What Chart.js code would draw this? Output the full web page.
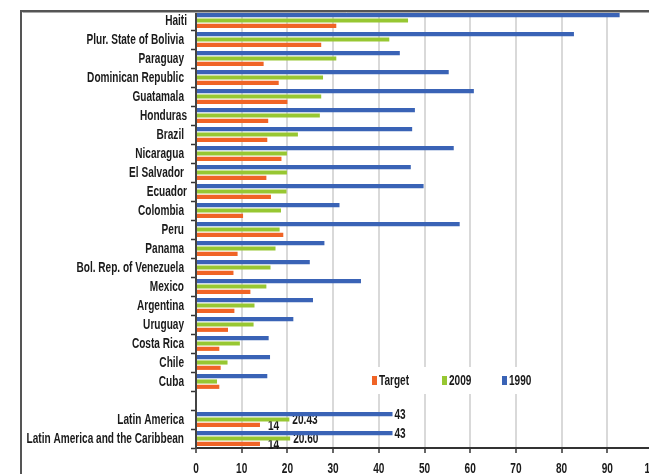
<!DOCTYPE html>
<html>
<head>
<meta charset="utf-8">
<script src="https://cdn.jsdelivr.net/npm/chart.js@4/dist/chart.umd.min.js"></script>
<style>
  html, body { margin: 0; padding: 0; background: #ffffff; overflow: hidden; width: 649px; height: 474px; }
  #wrap { position: absolute; left: 0; top: 0; width: 670px; height: 490px; }
</style>
</head>
<body>
<div id="wrap"><canvas id="c" width="670" height="490"></canvas></div>
<script>
// ---- data ----
const categories = [
  "Haiti", "Plur. State of Bolivia ", "Paraguay ", "Dominican Republic ", "Guatamala ",
  "Honduras", "Brazil ", "Nicaragua ", "El Salvador ", "Ecuador",
  "Colombia ", "Peru ", "Panama ", "Bol. Rep. of Venezuela ", "Mexico ",
  "Argentina ", "Uruguay ", "Costa Rica ", "Chile ", "Cuba ",
  "", "Latin America ", "Latin America and the Caribbean "
];
const values1990 = [
  92.7, 82.7, 44.6, 55.3, 60.8,
  47.9, 47.3, 56.4, 47.0, 49.8,
  31.4, 57.7, 28.1, 24.9, 36.1,
  25.6, 21.3, 15.9, 16.2, 15.6,
  null, 43, 43
];
const values2009 = [
  46.4, 42.3, 30.7, 27.8, 27.4,
  27.1, 22.3, 19.9, 19.9, 19.8,
  18.6, 18.3, 17.4, 16.3, 15.4,
  12.8, 12.6, 9.6, 6.9, 4.6,
  null, 20.43, 20.60
];
const valuesTarget = [
  30.7, 27.4, 14.8, 18.1, 20.0,
  15.8, 15.6, 18.7, 15.4, 16.4,
  10.3, 19.1, 9.1, 8.2, 11.9,
  8.4, 7.0, 5.1, 5.4, 5.1,
  null, 14, 14
];
const labelledCategories = ["Latin America ", "Latin America and the Caribbean "];
const labelDecimals = [0, 2, 0]; // per dataset: 1990, 2009, Target
const xTickMin = 0, xTickMax = 100, xTickStep = 10;

const FONT = 'bold 14px "Liberation Sans", Arial, sans-serif';
const SX = 0.72; // horizontal condensing of text
const TEXT = '#1a1a1a';
const BLUE = '#3a63b6', GREEN = '#97c732', ORANGE = '#f06426';

function narrowText(ctx, str, x, y, align, baseline) {
  ctx.save();
  ctx.font = FONT;
  ctx.fillStyle = TEXT;
  ctx.textAlign = align;
  ctx.textBaseline = baseline;
  ctx.translate(x, y);
  ctx.scale(SX, 1);
  ctx.fillText(str, 0, 0);
  ctx.restore();
}

const decor = {
  id: 'decor',
  beforeDraw(chart) {
    const ctx = chart.ctx;
    ctx.save();
    ctx.fillStyle = '#fff';
    ctx.fillRect(0, 0, chart.width, chart.height);
    ctx.restore();
  },
  beforeDatasetsDraw(chart) {
    const ctx = chart.ctx;
    const area = chart.chartArea;
    ctx.save();
    // outer frame
    ctx.strokeStyle = '#555';
    ctx.lineWidth = 2;
    ctx.beginPath();
    ctx.moveTo(21, chart.height + 5);
    ctx.lineTo(21, area.top);
    ctx.lineTo(chart.width + 5, area.top);
    ctx.stroke();
    ctx.strokeStyle = '#aaa';
    ctx.lineWidth = 1;
    ctx.beginPath();
    ctx.moveTo(22.5, area.top + 1.5);
    ctx.lineTo(chart.width + 5, area.top + 1.5);
    ctx.stroke();

    // legend box (white, hides gridlines)
    ctx.fillStyle = '#fff';
    ctx.fillRect(352, 367, 190, 27);
    const items = chart.data.datasets.slice().reverse();
    const xs = [372, 442, 502];
    items.forEach((ds, i) => {
      ctx.fillStyle = ds.backgroundColor;
      ctx.fillRect(xs[i], 376, 5, 9);
      narrowText(ctx, ds.label, xs[i] + 7, 381, 'left', 'middle');
    });

    // category labels (y axis)
    const ys = chart.scales.y;
    chart.data.labels.forEach((lab, i) => {
      if (!lab) return;
      narrowText(ctx, lab.trim(), ys.right - 9 - (lab.endsWith(' ') ? 3 : 0), ys.getPixelForTick(i) + 1, 'right', 'middle');
    });

    // x tick labels
    const xs2 = chart.scales.x;
    xs2.ticks.forEach(t => {
      narrowText(ctx, String(t.value), xs2.getPixelForValue(t.value), 473, 'center', 'alphabetic');
    });

    // value labels for aggregate rows
    const offs = [2, 3, 8];
    chart.data.datasets.forEach((ds, di) => {
      const meta = chart.getDatasetMeta(di);
      meta.data.forEach((bar, i) => {
        if (!labelledCategories.includes(chart.data.labels[i])) return;
        const v = ds.data[i];
        if (v == null) return;
        narrowText(ctx, v.toFixed(labelDecimals[di]), bar.x + offs[di], bar.y + 1, 'left', 'middle');
      });
    });
    ctx.restore();
  }
};

new Chart(document.getElementById('c'), {
  type: 'bar',
  data: {
    labels: categories,
    datasets: [
      { label: '1990', data: values1990, backgroundColor: BLUE },
      { label: '2009', data: values2009, backgroundColor: GREEN },
      { label: 'Target', data: valuesTarget, backgroundColor: ORANGE }
    ]
  },
  options: {
    indexAxis: 'y',
    responsive: false,
    animation: false,
    devicePixelRatio: 1,
    categoryPercentage: 0.84,
    barPercentage: 0.78,
    layout: { padding: { left: 21, top: 11, right: 17, bottom: 12 } },
    plugins: { legend: { display: false }, tooltip: { enabled: false } },
    scales: {
      x: {
        min: xTickMin, max: xTickMax,
        ticks: { stepSize: xTickStep, display: false },
        grid: { color: '#d9d9d9', lineWidth: 2, tickColor: '#333', tickLength: 5, tickWidth: 1.5 },
        border: { color: '#333', width: 2 },
        afterFit(s) { s.height = 30; }
      },
      y: {
        ticks: { display: false, autoSkip: false },
        grid: { drawOnChartArea: false, offset: true, tickColor: '#333', tickLength: 5, tickWidth: 1.5 },
        border: { color: '#444', width: 2 },
        afterFit(s) { s.width = 175; }
      }
    }
  },
  plugins: [decor]
});
</script>
</body>
</html>
